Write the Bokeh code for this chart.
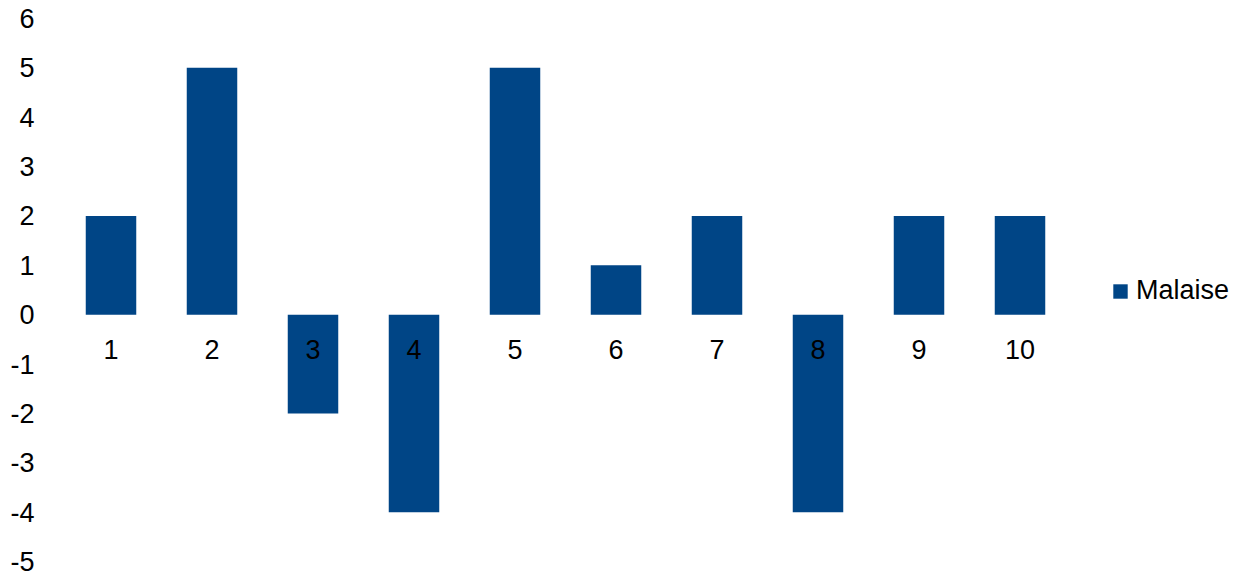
from bokeh.plotting import figure
from bokeh.models import Range1d, Legend, LegendItem, ColumnDataSource, FixedTicker
from bokeh.core.properties import value
from bokeh.embed import file_html
from bokeh.resources import INLINE

categories = ["1", "2", "3", "4", "5", "6", "7", "8", "9", "10"]
malaise = [2, 5, -2, -4, 5, 1, 2, -4, 2, 2]
y_ticks = [-5, -4, -3, -2, -1, 0, 1, 2, 3, 4, 5, 6]

xs = list(range(1, len(categories) + 1))
src = ColumnDataSource(dict(x=xs, top=malaise, label=categories, ly=[-0.71] * len(xs)))

FONT = "Liberation Sans"
FS = "27px"

# frame spans the full right side so the legend (drawn in the frame) is not clipped
p = figure(width=1239, height=576, output_backend="svg", toolbar_location=None,
           x_range=Range1d(0.5, 0.5 + 1179 / 101.0), y_range=Range1d(-5, 6),
           min_border_left=60, min_border_top=18, min_border_bottom=15,
           min_border_right=0)
p.outline_line_color = None
p.xgrid.visible = False
p.ygrid.visible = False
p.xaxis.visible = False

r = p.vbar(x="x", top="top", bottom=0, width=0.5, source=src,
           fill_color="#004586", line_color=None)

p.text(x="x", y="ly", text="label", source=src, text_align="center",
       text_baseline="middle", text_font=value(FONT),
       text_font_size=FS, text_color="#000000")

ya = p.yaxis[0]
ya.ticker = FixedTicker(ticks=y_ticks)
ya.major_label_overrides = {t: str(t) for t in y_ticks}
ya.axis_line_color = None
ya.major_tick_line_color = None
ya.minor_tick_line_color = None
ya.major_label_text_font = FONT
ya.major_label_text_font_size = FS
ya.major_label_text_color = "#000000"
ya.major_label_standoff = 20

legend = Legend(items=[LegendItem(label="Malaise", renderers=[r])],
                location=(1051, 255), orientation="vertical")
legend.border_line_color = None
legend.background_fill_alpha = 0
legend.glyph_width = 18
legend.glyph_height = 18
legend.label_standoff = 7
legend.label_text_font = FONT
legend.label_text_font_size = FS
legend.label_text_color = "#000000"
legend.margin = 0
legend.padding = 0
legend.spacing = 0
p.add_layout(legend, "center")

open("out.html", "w").write(file_html(p, INLINE))
